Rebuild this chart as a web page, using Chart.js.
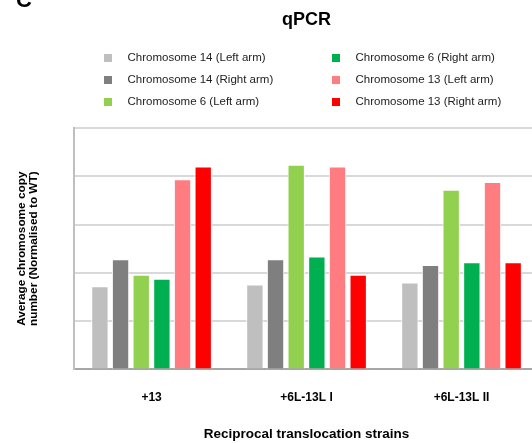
<!DOCTYPE html>
<html>
<head>
<meta charset="utf-8">
<script src="https://cdn.jsdelivr.net/npm/chart.js@4"></script>
<style>
  html, body { margin: 0; padding: 0; background: #fff; overflow: hidden; }
  #wrap { width: 540px; height: 443px; }
</style>
</head>
<body>
<div id="wrap"><canvas id="myChart" width="540" height="443"></canvas></div>
<script>
const categories = ['+13', '+6L-13L I', '+6L-13L II'];
const chr14Left = [0.86, 0.88, 0.90];
const chr14Right = [1.14, 1.14, 1.08];
const chr6Left = [0.98, 2.12, 1.86];
const chr6Right = [0.94, 1.17, 1.11];
const chr13Left = [1.97, 2.10, 1.94];
const chr13Right = [2.10, 0.98, 1.11];

const FONT = '"Liberation Sans", Arial, sans-serif';

function bar(label, data, color) {
  return {
    label: label,
    data: data,
    backgroundColor: color,
    borderColor: '#ffffff',
    borderWidth: 1,
    categoryPercentage: 0.8,
    barPercentage: 0.84
  };
}

// title, panel letter and a two-column legend drawn on the canvas
const overlay = {
  id: 'overlay',
  afterDraw(chart) {
    let ctx = chart.ctx;
    let area = chart.chartArea;
    ctx.save();
    ctx.fillStyle = '#000';
    ctx.font = 'bold 22px ' + FONT;
    ctx.textAlign = 'left';
    ctx.textBaseline = 'alphabetic';
    ctx.fillText('C', 16, 7);

    ctx.font = 'bold 18px ' + FONT;
    ctx.textAlign = 'center';
    ctx.textBaseline = 'middle';
    ctx.fillText('qPCR', (area.left + area.right) / 2, 20);

    ctx.font = '11.5px ' + FONT;
    ctx.textAlign = 'left';
    let cols = [104, 332];
    let rows = [58, 80, 102];
    chart.data.datasets.forEach((ds, i) => {
      let x = cols[Math.floor(i / 3)];
      let y = rows[i % 3];
      ctx.fillStyle = ds.backgroundColor;
      ctx.fillRect(x, y - 4, 8, 8);
      ctx.fillStyle = '#222';
      ctx.fillText(ds.label, x + 23.5, y);
    });
    ctx.restore();
  }
};

let ctx = document.getElementById('myChart').getContext('2d');
let myChart = new Chart(ctx, {
  type: 'bar',
  data: {
    labels: categories,
    datasets: [
      bar('Chromosome 14 (Left arm)', chr14Left, '#bfbfbf'),
      bar('Chromosome 14 (Right arm)', chr14Right, '#7f7f7f'),
      bar('Chromosome 6 (Left arm)', chr6Left, '#92d050'),
      bar('Chromosome 6 (Right arm)', chr6Right, '#00b050'),
      bar('Chromosome 13 (Left arm)', chr13Left, '#ff7c80'),
      bar('Chromosome 13 (Right arm)', chr13Right, '#ff0000')
    ]
  },
  options: {
    responsive: false,
    animation: false,
    layout: { padding: { top: 128, left: 0, right: 1, bottom: 1 } },
    plugins: {
      legend: { display: false },
      title: { display: false },
      tooltip: { enabled: false }
    },
    scales: {
      x: {
        grid: { display: false, drawTicks: false },
        border: { display: true, color: '#a6a6a6', width: 2 },
        ticks: { color: '#000', padding: 21, font: { family: FONT, size: 12, weight: 'bold' } },
        title: {
          display: true,
          text: 'Reciprocal translocation strains',
          color: '#000',
          padding: { top: 0, bottom: 0 },
          font: { family: FONT, size: 13.5, weight: 'bold' }
        }
      },
      y: {
        min: 0,
        max: 2.5,
        ticks: { display: false, stepSize: 0.5 },
        grid: { color: '#d9d9d9', lineWidth: 2, drawTicks: false },
        border: { display: true, color: '#bfbfbf', width: 2 },
        title: {
          display: true,
          text: ['Average chromosome copy', 'number (Normalised to WT)'],
          color: '#000',
          padding: { top: 15.5, bottom: 34.5 },
          font: { family: FONT, size: 11.8, weight: 'bold', lineHeight: 1.02 }
        }
      }
    }
  },
  plugins: [overlay]
});
</script>
</body>
</html>
